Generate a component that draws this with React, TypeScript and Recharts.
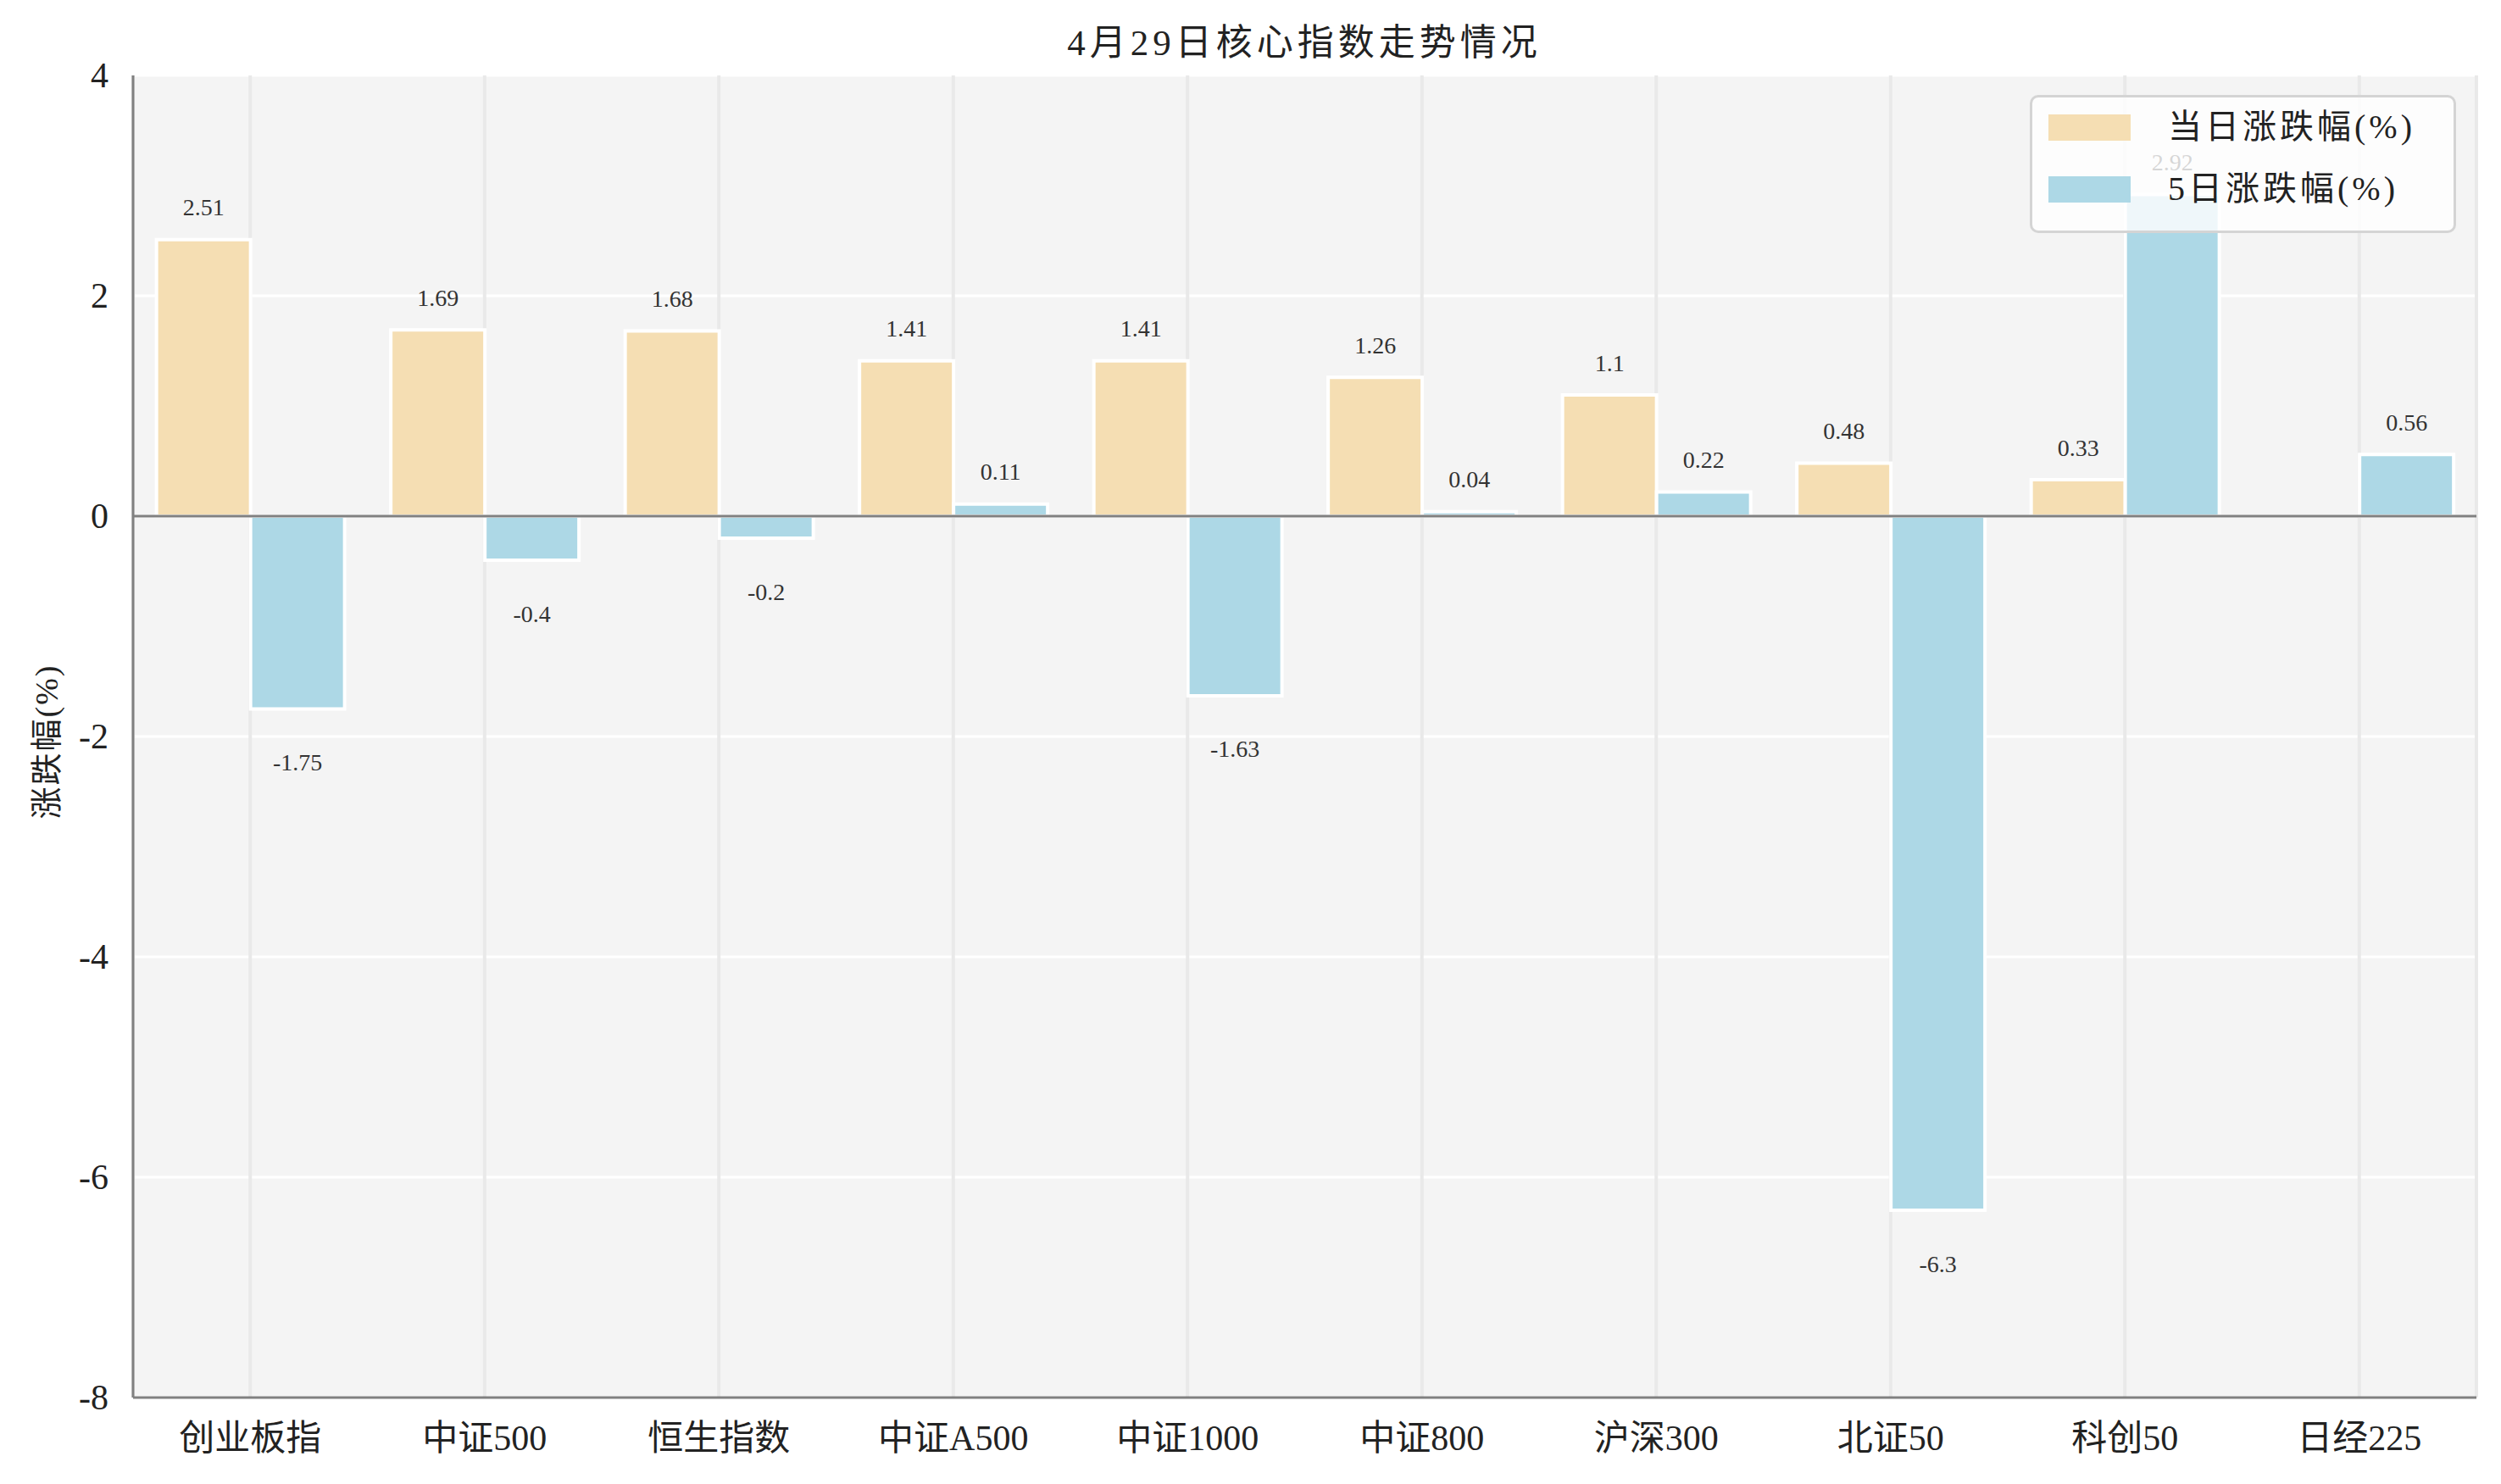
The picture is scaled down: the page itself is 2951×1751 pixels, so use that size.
import React from 'react';
import {
  BarChart,
  Bar,
  XAxis,
  YAxis,
  CartesianGrid,
  ReferenceLine,
  LabelList,
} from 'recharts';

const categories = ['创业板指', '中证500', '恒生指数', '中证A500', '中证1000', '中证800', '沪深300', '北证50', '科创50', '日经225'];
const dailyChange: (number | null)[] = [2.51, 1.69, 1.68, 1.41, 1.41, 1.26, 1.1, 0.48, 0.33, null];
const fiveDayChange: number[] = [-1.75, -0.4, -0.2, 0.11, -1.63, 0.04, 0.22, -6.3, 2.92, 0.56];
const yTicks = [-8, -6, -4, -2, 0, 2, 4];
const seriesNames = ['当日涨跌幅(%)', '5日涨跌幅(%)'];
const titleText = '4月29日核心指数走势情况';
const yLabelText = '涨跌幅(%)';

const data = categories.map((name, i) => ({
  name,
  daily: dailyChange[i],
  fiveDay: fiveDayChange[i],
}));

const FONT = "'Liberation Serif', 'Noto Sans CJK SC', serif";
const DAILY_COLOR = '#F5DEB3';
const FIVE_COLOR = '#ADD8E6';
const AXIS_COLOR = '#808080';

const YTick = (props: any) => {
  const { x, y, payload } = props;
  return (
    <text x={x} y={y} textAnchor="end" dominantBaseline="central" fontSize={42} fontFamily={FONT} fill="#222">
      {payload.value}
    </text>
  );
};

const XTick = (props: any) => {
  const { x, y, payload } = props;
  return (
    <text x={x} y={y} textAnchor="middle" dominantBaseline="central" fontSize={42} fontFamily={FONT} fill="#222">
      {payload.value}
    </text>
  );
};

const ValueLabel = (props: any) => {
  const vb = props.viewBox && props.viewBox.width !== undefined ? props.viewBox : props;
  const { x, y, width, height } = vb;
  const value = props.value;
  if (value === null || value === undefined || x === undefined) return null;
  const top = Math.min(y, y + height);
  const bottom = Math.max(y, y + height);
  const ty = value >= 0 ? top - 38 : bottom + 63;
  return (
    <text x={x + width / 2} y={ty} textAnchor="middle" dominantBaseline="central" fontSize={28} fontFamily={FONT} fill="#333">
      {value}
    </text>
  );
};

const LegendBox = () => (
  <div
    style={{
      position: 'absolute',
      left: 2395,
      top: 112,
      width: 503,
      height: 163,
      boxSizing: 'border-box',
      background: 'rgba(255,255,255,0.8)',
      border: '3px solid #d4d4d4',
      borderRadius: 10,
      fontFamily: FONT,
      zIndex: 5,
    }}
  >
    {[DAILY_COLOR, FIVE_COLOR].map((c, i) => (
      <div key={i}>
        <div
          style={{
            position: 'absolute',
            left: 19,
            top: 20 + i * 73,
            width: 97,
            height: 31,
            background: c,
          }}
        />
        <div
          style={{
            position: 'absolute',
            left: 160,
            top: 35 + i * 73,
            transform: 'translateY(-50%)',
            fontSize: 40,
            letterSpacing: 4,
            color: '#222',
            whiteSpace: 'nowrap',
            lineHeight: 1,
          }}
        >
          {seriesNames[i]}
        </div>
      </div>
    ))}
  </div>
);

export default function App() {
  return (
    <div style={{ position: 'absolute', left: 0, top: 0, width: 2951, height: 1751, background: '#fff' }}>
      <div
        style={{
          position: 'absolute',
          left: 1539,
          top: 50,
          transform: 'translate(-50%, -50%)',
          fontFamily: FONT,
          fontSize: 43,
          letterSpacing: 5,
          color: '#222',
          whiteSpace: 'nowrap',
          lineHeight: 1,
        }}
      >
        {titleText}
      </div>
      <div
        style={{
          position: 'absolute',
          left: 55,
          top: 875,
          transform: 'translate(-50%, -50%) rotate(-90deg)',
          fontFamily: FONT,
          fontSize: 38,
          letterSpacing: 2,
          color: '#222',
          whiteSpace: 'nowrap',
          lineHeight: 1,
        }}
      >
        {yLabelText}
      </div>
      <BarChart
        width={2951}
        height={1751}
        data={data}
        margin={{ top: 89, right: 29, left: 57, bottom: 42 }}
        barCategoryGap="10%"
        barGap={0}
      >
        <CartesianGrid horizontal={true} vertical={false} stroke="#ffffff" strokeWidth={3} fill="#f4f4f4" />
        <CartesianGrid horizontal={false} vertical={true} stroke="#e9e9e9" strokeWidth={4} />
        <XAxis
          dataKey="name"
          height={60}
          tickSize={0}
          tickMargin={48}
          tick={<XTick />}
          axisLine={{ stroke: AXIS_COLOR, strokeWidth: 3 }}
          tickLine={false}
          interval={0}
        />
        <YAxis
          width={100}
          domain={[-8, 4]}
          ticks={yTicks}
          type="number"
          allowDataOverflow
          tickSize={0}
          tickMargin={29}
          tick={<YTick />}
          axisLine={{ stroke: AXIS_COLOR, strokeWidth: 3 }}
          tickLine={false}
        />
        <Bar dataKey="daily" name={seriesNames[0]} fill={DAILY_COLOR} stroke="#ffffff" strokeWidth={4} isAnimationActive={false}>
          <LabelList dataKey="daily" content={<ValueLabel />} />
        </Bar>
        <Bar dataKey="fiveDay" name={seriesNames[1]} fill={FIVE_COLOR} stroke="#ffffff" strokeWidth={4} isAnimationActive={false}>
          <LabelList dataKey="fiveDay" content={<ValueLabel />} />
        </Bar>
        <ReferenceLine y={0} stroke={AXIS_COLOR} strokeWidth={3} />
      </BarChart>
      <LegendBox />
    </div>
  );
}
